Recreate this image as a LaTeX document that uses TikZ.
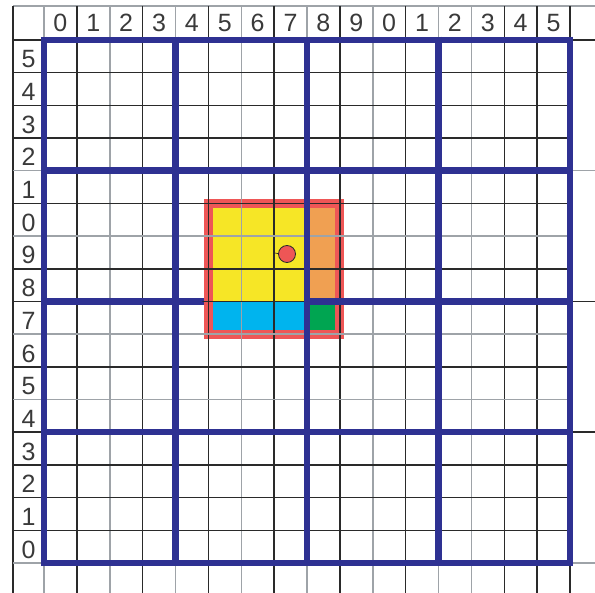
\documentclass[tikz,border=0pt]{standalone}
\usepackage{fontspec}
\setmainfont{Liberation Sans}
\definecolor{gridblue}{HTML}{2E3192}
\definecolor{griddark}{HTML}{2A2A2A}
\definecolor{gridgray}{HTML}{9EA3A8}
\definecolor{labelcol}{HTML}{3A3A3A}
\definecolor{cyel}{HTML}{F6E626}
\definecolor{corange}{HTML}{F0A052}
\definecolor{ccyan}{HTML}{00B4EE}
\definecolor{cgreen}{HTML}{00A551}
\definecolor{cred}{HTML}{EE5656}
\tikzset{
  thinline/.style={line width=1.5pt},
  bluerule/.style={line width=6.5pt, gridblue},
  digit/.style={anchor=base, inner sep=0pt, text=labelcol, font=\fontsize{25}{30}\selectfont},
}
\newcommand{\gx}[1]{44+#1*32.875}
\newcommand{\gy}[1]{40+#1*32.6875}
\begin{document}
\begin{tikzpicture}[x=1pt,y=-1pt]
\useasboundingbox (0,0) rectangle (595,593);
\fill[white] (0,0) rectangle (595,593);
% outer frame lines
\draw[thinline, gridgray] (13,6) -- (595,6);
\draw[thinline, griddark] (13,6) -- (13,593);
% thin vertical lines
\foreach \i in {0,...,16}{
  \pgfmathsetmacro\xx{\gx{\i}}
  \ifnum\i=0 \def\cc{gridgray}\else\ifnum\i=2 \def\cc{gridgray}\else\ifnum\i=4 \def\cc{gridgray}\else\ifnum\i=6 \def\cc{gridgray}\else\ifnum\i=8 \def\cc{gridgray}\else\ifnum\i=10 \def\cc{gridgray}\else\ifnum\i=12 \def\cc{gridgray}\else\ifnum\i=13 \def\cc{gridgray}\else\def\cc{griddark}\fi\fi\fi\fi\fi\fi\fi\fi
  \draw[thinline, \cc] (\xx,6) -- (\xx,593);
}
% thin horizontal lines
\foreach \j in {0,...,16}{
  \pgfmathsetmacro\yy{\gy{\j}}
  \ifnum\j=4 \def\cc{gridgray}\else\ifnum\j=6 \def\cc{gridgray}\else\ifnum\j=9 \def\cc{gridgray}\else\ifnum\j=11 \def\cc{gridgray}\else\ifnum\j=16 \def\cc{gridgray}\else\def\cc{griddark}\fi\fi\fi\fi\fi
  \pgfmathtruncatemacro\m{mod(\j,4)}
  \ifnum\m=0 \def\xe{595}\else\def\xe{570}\fi
  \draw[thinline, \cc] (13,\yy) -- (\xe,\yy);
}
% blue rules every four cells
\foreach \k in {0,4,8,12,16}{
  \pgfmathsetmacro\xx{\gx{\k}}
  \pgfmathsetmacro\yy{\gy{\k}}
  \draw[bluerule] (\xx,{\gy{0}-3.25}) -- (\xx,{\gy{16}+3.25});
  \draw[bluerule] ({\gx{0}-3.25},\yy) -- ({\gx{16}+3.25},\yy);
}
% coloured block
\fill[cyel]    ({\gx{5}},{\gy{5}}) rectangle ({\gx{8}},{\gy{8}});
\fill[corange] ({\gx{8}},{\gy{5}}) rectangle ({\gx{9}},{\gy{8}});
\fill[ccyan]   ({\gx{5}},{\gy{8}}) rectangle ({\gx{8}},{\gy{9}});
\fill[cgreen]  ({\gx{8}},{\gy{8}}) rectangle ({\gx{9}},{\gy{9}});
\draw[cred, line width=9pt] ({\gx{5}},{\gy{5}}) rectangle ({\gx{9}},{\gy{9}});
% thin lines over the block
\begin{scope}
  \clip ({\gx{5}-6},{\gy{5}-6}) rectangle ({\gx{9}+6},{\gy{9}+6});
  \foreach \i/\cc in {5/griddark,6/gridgray,7/griddark,9/griddark}{
    \draw[thinline, \cc] ({\gx{\i}},0) -- ({\gx{\i}},593);
  }
  \foreach \j/\cc in {5/griddark,6/gridgray,7/griddark,8/griddark,9/gridgray}{
    \draw[thinline, \cc] (0,{\gy{\j}}) -- (595,{\gy{\j}});
  }
\end{scope}
\draw[bluerule] ({\gx{8}},{\gy{4}}) -- ({\gx{8}},{\gy{10}});
\draw[bluerule] ({\gx{8}},{\gy{8}}) -- ({\gx{10}},{\gy{8}});
% red dot
\draw[griddark, line width=0.6pt] (275,253) -- (280,254);
\node[circle, fill=cred, draw=griddark, line width=0.8pt, minimum size=17pt, inner sep=0pt] (dot) at (287,254) {};
% column labels
\foreach \i in {0,...,15}{
  \pgfmathtruncatemacro\t{mod(\i,10)}
  \node[digit] (c\i) at ({\gx{\i}+16.44},32) {\t};
}
% row labels
\foreach \j in {0,...,15}{
  \pgfmathtruncatemacro\t{mod(15-\j,10)}
  \node[digit] (r\j) at (28.5,{\gy{\j}+16.34+2.5+9}) {\t};
}
\end{tikzpicture}
\end{document}
